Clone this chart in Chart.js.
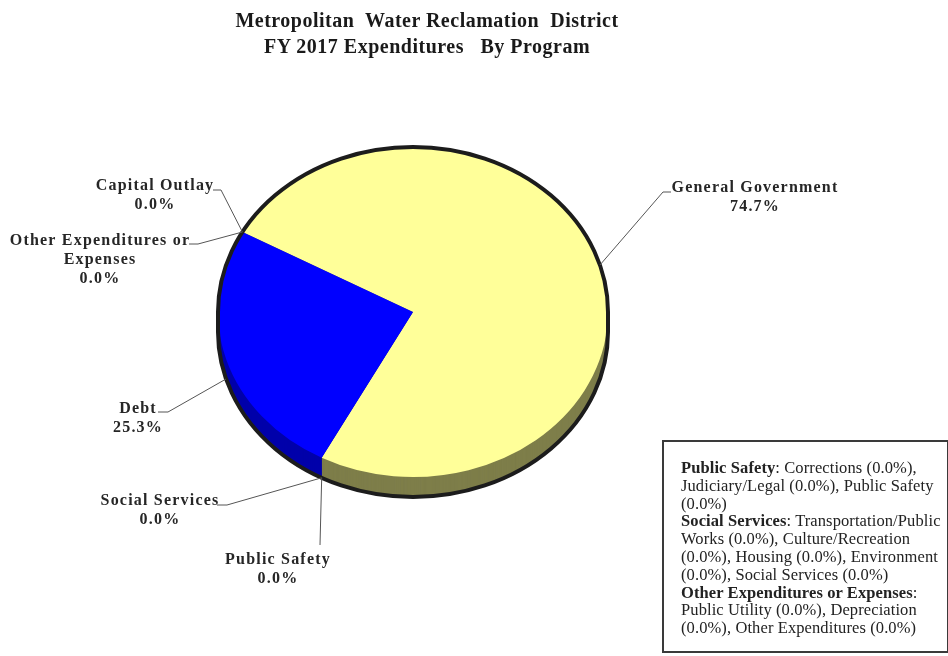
<!DOCTYPE html>
<html><head><meta charset="utf-8">
<script src="https://cdn.jsdelivr.net/npm/chart.js@4.4.1/dist/chart.umd.min.js"></script>
<style>
html,body{margin:0;padding:0;background:#fff;}
#wrap{position:relative;width:948px;height:656px;overflow:hidden;background:#fff;}
#c{position:absolute;left:0;top:0;}
#title{position:absolute;left:0;top:7px;width:854px;text-align:center;font:bold 20px "Liberation Serif",serif;line-height:26px;letter-spacing:0.5px;white-space:pre;color:#1a1a1a;}
#note{position:absolute;left:662px;top:440px;width:266px;height:192px;border:2px solid #3a3a3a;padding:17px 0 0 17px;font:16.5px "Liberation Serif",serif;line-height:17.8px;letter-spacing:0.1px;color:#222;white-space:nowrap;}
#note b{font-weight:bold;}
</style></head>
<body>
<div id="wrap">
<canvas id="c" width="948" height="656"></canvas>
<div id="title">Metropolitan  Water Reclamation  District
FY 2017 Expenditures   By Program</div>
<div id="note"><b>Public Safety</b>: Corrections (0.0%),<br>Judiciary/Legal (0.0%), Public Safety<br>(0.0%)<br><b>Social Services</b>: Transportation/Public<br>Works (0.0%), Culture/Recreation<br>(0.0%), Housing (0.0%), Environment<br>(0.0%), Social Services (0.0%)<br><b>Other Expenditures or Expenses</b>:<br>Public Utility (0.0%), Depreciation<br>(0.0%), Other Expenditures (0.0%)</div>
</div>
<script>
// ---- data ----
const categories = ['General Government', 'Public Safety', 'Social Services', 'Debt', 'Other Expenditures or Expenses', 'Capital Outlay'];
const labelLines = [['General Government'], ['Public Safety'], ['Social Services'], ['Debt'], ['Other Expenditures or', 'Expenses'], ['Capital Outlay']];
const values = [74.7, 0, 0, 25.3, 0, 0];

// ---- style ----
const topColors  = ['#FFFF99', '#FFFF99', '#FFFF99', '#0000FF', '#0000FF', '#FFFF99'];
const sideColors = ['#7E7E4A', '#7E7E4A', '#7E7E4A', '#0000AA', '#0000AA', '#7E7E4A'];
const DEPTH = 20;
const TILT = 165 / 195;
// label text anchor (centre of first line), elbow and tip of the leader line
const labelLayout = [
  { x: 755, y: 188, elbow: [663, 192], tip: [671, 192] },
  { x: 278, y: 560, elbow: [320, 545], tip: [320, 545] },
  { x: 160, y: 501, elbow: [227, 505], tip: [217, 505] },
  { x: 138, y: 409, elbow: [168, 412], tip: [158, 412] },
  { x: 100, y: 241, elbow: [198, 244], tip: [189, 244] },
  { x: 155, y: 186, elbow: [221, 190], tip: [213, 190] }
];

const pie3d = {
  id: 'pie3d',
  beforeDatasetsDraw(chart) {
    const ctx = chart.ctx;
    const meta = chart.getDatasetMeta(0);
    const a0 = meta.data[0];
    const cx = a0.x, cy = a0.y;
    ctx.save();
    ctx.translate(cx, cy); ctx.scale(1, TILT); ctx.translate(-cx, -cy);
    for (let d = DEPTH; d >= 0.5; d -= 0.5) {
      meta.data.forEach((arc, i) => {
        if (arc.endAngle - arc.startAngle <= 0) return;
        const oy = d / TILT;
        ctx.beginPath();
        ctx.moveTo(arc.x, arc.y + oy);
        ctx.arc(arc.x, arc.y + oy, arc.outerRadius, arc.startAngle, arc.endAngle);
        ctx.closePath();
        ctx.fillStyle = sideColors[i];
        ctx.fill();
      });
    }
  },
  afterDatasetsDraw(chart) {
    const ctx = chart.ctx;
    ctx.restore();
    const meta = chart.getDatasetMeta(0);
    const a0 = meta.data[0];
    const cx = a0.x, cy = a0.y, R = a0.outerRadius;
    // outline
    ctx.save();
    ctx.beginPath();
    ctx.ellipse(cx, cy, R, R * TILT, 0, Math.PI, 2 * Math.PI);
    ctx.lineTo(cx + R, cy + DEPTH);
    ctx.ellipse(cx, cy + DEPTH, R, R * TILT, 0, 0, Math.PI);
    ctx.closePath();
    ctx.lineWidth = 4;
    ctx.strokeStyle = '#1c1c1c';
    ctx.stroke();
    ctx.restore();
    // labels + leaders
    ctx.save();
    ctx.font = 'bold 16px "Liberation Serif", serif';
    try { ctx.letterSpacing = '1.2px'; } catch (e) {}
    ctx.textAlign = 'center';
    ctx.textBaseline = 'middle';
    meta.data.forEach((arc, i) => {
      const L = labelLayout[i];
      const mid = (arc.startAngle + arc.endAngle) / 2;
      const s = Math.sin(mid), c = Math.cos(mid);
      const px = cx + R * c;
      const py = cy + R * TILT * s + (s > 0 ? DEPTH : 0);
      ctx.beginPath();
      ctx.moveTo(px, py);
      ctx.lineTo(L.elbow[0], L.elbow[1]);
      ctx.lineTo(L.tip[0], L.tip[1]);
      ctx.strokeStyle = '#555';
      ctx.lineWidth = 1;
      ctx.stroke();
      ctx.fillStyle = '#262626';
      const lines = labelLines[i].concat([values[i].toFixed(1) + '%']);
      lines.forEach((t, k) => ctx.fillText(t, L.x, L.y + k * 19));
    });
    ctx.restore();
  }
};

new Chart(document.getElementById('c'), {
  type: 'pie',
  data: {
    labels: categories,
    datasets: [{
      data: values,
      backgroundColor: topColors,
      borderWidth: 0,
      clip: false
    }]
  },
  options: {
    responsive: false,
    animation: false,
    rotation: 299,
    radius: 195,
    layout: { padding: { left: 218, right: 340, top: 117, bottom: 149 } },
    plugins: { legend: { display: false }, title: { display: false }, tooltip: { enabled: false } },
    events: []
  },
  plugins: [pie3d]
});
</script>
</body></html>
